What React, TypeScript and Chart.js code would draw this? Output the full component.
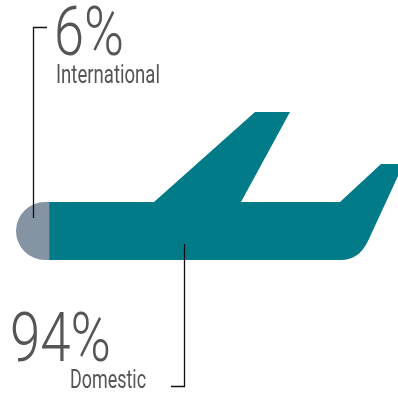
import React, { useEffect, useRef } from "react";
import { Chart, registerables } from "chart.js";

Chart.register(...registerables);

const categories = ["Passengers"];
const internationalShare = [6];
const domesticShare = [94];
const shareLabels = ["6%", "94%"];
const seriesLabels = ["International", "Domestic"];

const INTERNATIONAL_COLOR = "#8494a2";
const DOMESTIC_COLOR = "#007b87";
const TEXT_COLOR = "#555555";
const LEADER_COLOR = "#111111";

const SHARE_FONT = "300 68px Roboto";
const SERIES_FONT = "400 25px Roboto";

// Aircraft outline used as the clipping shape for the stacked bar.
function tracePlane(ctx: CanvasRenderingContext2D) {
  ctx.beginPath();
  ctx.moveTo(45, 202);
  ctx.lineTo(154, 202);
  ctx.lineTo(255, 112);
  ctx.lineTo(290, 112);
  ctx.lineTo(241, 202);
  ctx.lineTo(340, 202);
  ctx.lineTo(381, 164);
  ctx.lineTo(398, 164);
  ctx.lineTo(398, 176);
  ctx.lineTo(368, 241);
  ctx.quadraticCurveTo(359, 260, 341, 260);
  ctx.lineTo(45, 260);
  ctx.arc(45, 231, 29, Math.PI / 2, (Math.PI * 3) / 2);
  ctx.closePath();
}

const planeClip = {
  id: "planeClip",
  beforeDatasetsDraw(chart: Chart) {
    chart.ctx.save();
    tracePlane(chart.ctx);
    chart.ctx.clip();
  },
  afterDatasetsDraw(chart: Chart) {
    chart.ctx.restore();
  },
};

function drawLabel(
  ctx: CanvasRenderingContext2D,
  text: string,
  font: string,
  x: number,
  baseline: number,
  width: number,
) {
  ctx.font = font;
  ctx.fillStyle = TEXT_COLOR;
  ctx.textAlign = "left";
  ctx.textBaseline = "alphabetic";
  ctx.fillText(text, x, baseline, width);
}

function drawLeader(ctx: CanvasRenderingContext2D, points: number[][]) {
  ctx.beginPath();
  points.forEach(([x, y], i) => (i ? ctx.lineTo(x, y) : ctx.moveTo(x, y)));
  ctx.lineWidth = 1.3;
  ctx.strokeStyle = LEADER_COLOR;
  ctx.stroke();
}

const annotations = {
  id: "annotations",
  afterDraw(chart: Chart) {
    const { ctx } = chart;
    ctx.save();
    drawLeader(ctx, [[47, 27.5], [33.5, 27.5], [33.5, 218]]);
    drawLeader(ctx, [[184.5, 244], [184.5, 386.5], [171, 386.5]]);
    drawLabel(ctx, shareLabels[0], SHARE_FONT, 54, 55, 70);
    drawLabel(ctx, seriesLabels[0], SERIES_FONT, 56, 83, 104);
    drawLabel(ctx, shareLabels[1], SHARE_FONT, 10, 361, 101);
    drawLabel(ctx, seriesLabels[1], SERIES_FONT, 70, 388, 76);
    ctx.restore();
  },
};

export default function App() {
  const ref = useRef<HTMLCanvasElement | null>(null);

  useEffect(() => {
    if (!ref.current) return;
    const chart = new Chart(ref.current, {
      type: "bar",
      data: {
        labels: categories,
        datasets: [
          { label: seriesLabels[0], data: internationalShare, backgroundColor: INTERNATIONAL_COLOR },
          { label: seriesLabels[1], data: domesticShare, backgroundColor: DOMESTIC_COLOR },
        ],
      },
      options: {
        indexAxis: "y",
        responsive: false,
        animation: false,
        layout: { padding: { left: 16, right: 0, top: 100, bottom: 133 } },
        datasets: { bar: { barPercentage: 1, categoryPercentage: 1 } },
        scales: {
          // The fuselage crops the long domestic bar at the tail.
          x: { stacked: true, display: false, min: 0, max: 69.45 },
          y: { stacked: true, display: false },
        },
        plugins: { legend: { display: false }, tooltip: { enabled: false } },
      },
      plugins: [planeClip, annotations],
    });
    return () => chart.destroy();
  }, []);

  return (
    <canvas
      ref={ref}
      width={398}
      height={393}
      style={{ position: "fixed", left: 0, top: 0, width: 398, height: 393, display: "block" }}
    />
  );
}
